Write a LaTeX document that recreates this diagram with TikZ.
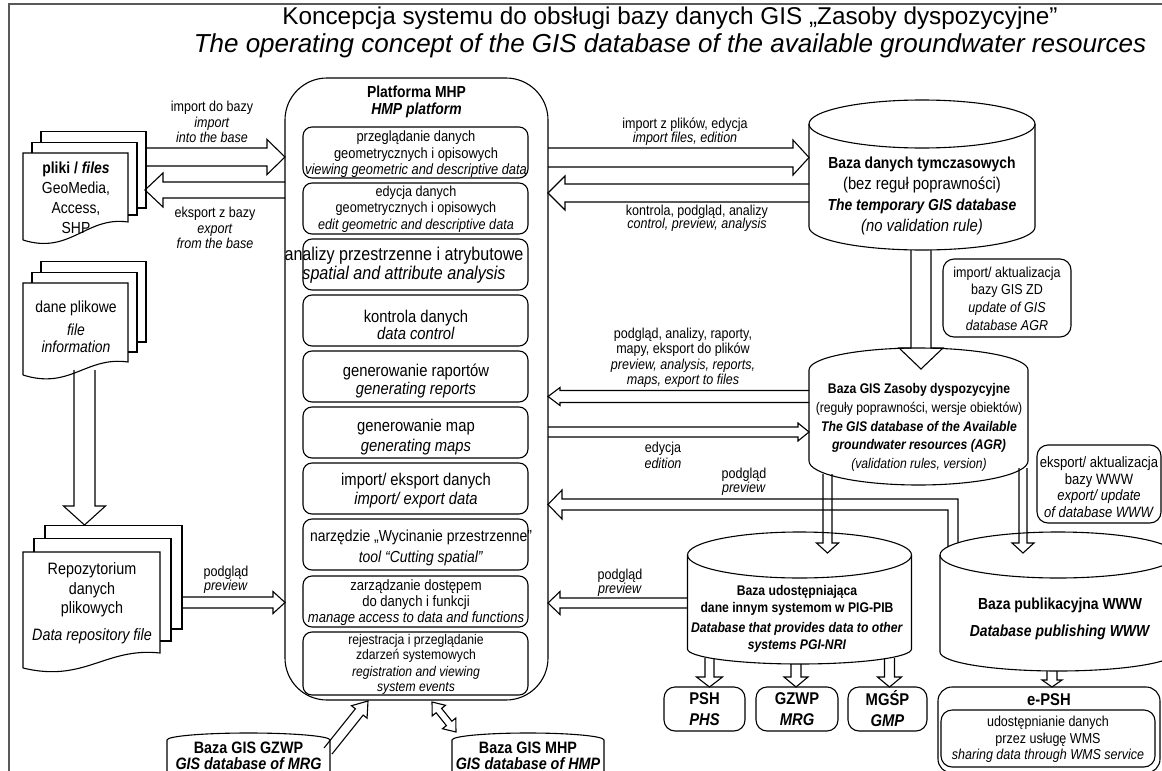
\documentclass[tikz,border=0pt]{standalone}
\usepackage{fontspec}
\setmainfont{Liberation Sans}[FakeStretch=0.87]
\newfontfamily\titlefont{Liberation Sans}
\usetikzlibrary{calc,positioning}

\newcommand{\fsz}[2]{\fontsize{#1}{#2}\selectfont}

\tikzset{
  ln/.style={line width=1.1pt},
  fat/.style={draw, line width=1.1pt, line join=miter, miter limit=20},
  fnbox/.style={draw, line width=1.1pt, rounded corners=9pt, minimum width=225pt},
  rbox/.style={draw, line width=1.1pt, rounded corners=11pt},
  lbl/.style={align=center, font=\fsz{14.4}{15.5}},
}

% hollow block arrow: start, tip, shaft half width, head half width, head length
\newcommand{\fatarrow}[5]{%
  \coordinate (fh) at ($(#2)!#5!(#1)$);
  \draw[fat] ($(#1)!#3!90:(#2)$) -- ($(fh)!#3!90:(#2)$) -- ($(fh)!#4!90:(#2)$) -- (#2)
    -- ($(fh)!#4!-90:(#2)$) -- ($(fh)!#3!-90:(#2)$) -- ($(#1)!#3!-90:(#2)$);}

% hollow block arrow with two heads
\newcommand{\fatdouble}[5]{%
  \coordinate (fha) at ($(#1)!#5!(#2)$);
  \coordinate (fhb) at ($(#2)!#5!(#1)$);
  \draw[fat] (#1) -- ($(fha)!#4!90:(#2)$) -- ($(fha)!#3!90:(#2)$) -- ($(fhb)!#3!-90:(#1)$)
    -- ($(fhb)!#4!-90:(#1)$) -- (#2) -- ($(fhb)!#4!90:(#1)$) -- ($(fhb)!#3!90:(#1)$)
    -- ($(fha)!#3!-90:(#2)$) -- ($(fha)!#4!-90:(#2)$) -- cycle;}

% stack of three sheets: left, top, width, offset, right bottom, step, left bottom
\newcommand{\sheets}[7]{%
  \draw[ln] ({#1+2*#4},{#2-1.2*#4}) -- ({#1+2*#4},{#2-2.4*#4}) -- ({#1+#3+2*#4},{#2-2.4*#4})
    -- ({#1+#3+2*#4},{#5-2*#6}) -- ({#1+#3+#4},{#5-2*#6});
  \draw[ln] ({#1+#4},{#2}) -- ({#1+#4},{#2-1.2*#4}) -- ({#1+#3+#4},{#2-1.2*#4})
    -- ({#1+#3+#4},{#5-#6}) -- ({#1+#3},{#5-#6});
  \draw[ln] (#1,#7) -- (#1,#2) -- ({#1+#3},#2) -- ({#1+#3},#5)
    .. controls ({#1+0.6*#3},{#5-6}) and ({#1+0.45*#3},{#7+15}) .. (#1,#7);}

% database drum round a node: node, x radius, top y radius, bottom y radius, full top
\newcommand{\dbcyl}[5]{%
  \draw[ln] (#1.north west) -- (#1.south west) arc[start angle=180, end angle=360, x radius=#2, y radius=#4]
    -- (#1.north east) arc[start angle=0, end angle=180, x radius=#2, y radius=#3];
  \ifnum#5=1 \draw[ln] (#1.north west) arc[start angle=180, end angle=360, x radius=#2, y radius=#3];\fi}

\begin{document}
\begin{tikzpicture}[x=1pt,y=-1pt, every node/.style={inner sep=0pt,outer sep=0pt}]

\useasboundingbox (0,0) rectangle (1162,771);

\draw[black!65, line width=1.2pt] (9,775) -- (9,4) -- (1170,4);

% title
\node[font=\titlefont\fsz{24.3}{28}] (title) at (670,18) {Koncepcja systemu do obsługi bazy danych GIS „Zasoby dyspozycyjne”};
\node[font=\titlefont\itshape\fsz{26}{28}] (subtitle) at (670,46) {The operating concept of the GIS database of the available groundwater resources};

% platform
\node[draw, ln, rounded corners=42pt, minimum width=263pt, minimum height=622pt] (plat) at (416.5,389) {};
\node[font=\bfseries\fsz{16}{17}, align=center] (plathead) at (416.5,101.5) {Platforma MHP\\\textit{HMP platform}};

\foreach \yb/\hb/\xt/\yt/\fnt/\txt [count=\i] in {
  152.5/51/416/154.5/{\fsz{14.8}{16.5}}/{przeglądanie danych\\geometrycznych i opisowych\\\textit{viewing geometric and descriptive data}},
  208.5/51/416/209/{\fsz{14.5}{16.5}}/{edycja danych\\geometrycznych i opisowych\\\textit{edit geometric and descriptive data}},
  264.5/51/404/265/{\fsz{18.5}{18.5}}/{analizy przestrzenne i atrybutowe\\\textit{spatial and attribute analysis}},
  320.5/51/416/325/{\fsz{17}{17}}/{kontrola danych\\\textit{data control}},
  376.5/51/416/381/{\fsz{17}{18}}/{generowanie raportów\\\textit{generating reports}},
  432.5/51/416/437/{\fsz{17}{20}}/{generowanie map\\\textit{generating maps}},
  488.5/51/416/491/{\fsz{17}{19}}/{import/ eksport danych\\\textit{import/ export data}},
  544.5/51/421/548/{\fsz{16}{21}}/{narzędzie „Wycinanie przestrzenne”\\\textit{tool “Cutting spatial”}},
  601.5/51/416/603/{\fsz{15}{16}}/{zarządzanie dostępem\\do danych i funkcji\\\textit{manage access to data and functions}},
  663.5/63/416/664.5/{\fsz{14}{15}}/{rejestracja i przeglądanie\\zdarzeń systemowych\\[2pt]\textit{registration and viewing}\\\textit{system events}}}
{
  \node[fnbox, minimum height=\hb pt] (fn\i) at (415.5,\yb) {};
  \node[align=center, font=\fnt] (fnt\i) at (\xt,\yt) {\txt};
}

% file stacks on the left
\sheets{23}{153}{105}{9}{222}{7}{240}
\node[align=center, font=\fsz{16}{20}] (files) at (76,198) {\textbf{pliki / \textit{files}}\\GeoMedia,\\Access,\\SHP};
\sheets{23}{283}{105}{9}{362}{10}{375}
\node[align=center, font=\fsz{16}{17.5}] (fileinfo) at (76,327) {dane plikowe\\[5pt]\textit{file}\\\textit{information}};
\sheets{23}{552}{137}{11}{653}{12}{668}
\node[align=center, font=\fsz{16.5}{19.5}] (repo) at (92,603) {Repozytorium\\danych\\plikowych\\[7pt]\textit{Data repository file}};

\coordinate (imS) at (145,157);
\coordinate (imT) at (plat.west |- imS);
\fatarrow{imS}{imT}{9pt}{17.5pt}{18pt}
\coordinate (exS) at (plat.west |- 0,190);
\coordinate (exT) at (145,190);
\fatarrow{exS}{exT}{8pt}{17pt}{18pt}
\node[lbl] (imlbl) at (212,122) {import do bazy\\\textit{import}\\\textit{into the base}};
\node[lbl] (exlbl) at (215,228) {eksport z bazy\\\textit{export}\\\textit{from the base}};

\coordinate (fiS) at (84.5,370);
\coordinate (fiT) at (84.5,525);
\fatarrow{fiS}{fiT}{10.5pt}{21pt}{19pt}

\coordinate (rpS) at (182,602.5);
\coordinate (rpT) at (plat.west |- rpS);
\fatarrow{rpS}{rpT}{5.5pt}{11pt}{12pt}
\node[lbl, font=\fsz{14.4}{14}] (rplbl) at (226,580) {podgląd\\\textit{preview}};

% temporary database
\node[minimum width=226pt, minimum height=103pt] (tmpdb) at (922,175.5) {};
\dbcyl{tmpdb}{113pt}{24pt}{23pt}{1}
\node[align=center, font=\fsz{16}{21}] (tmptxt) at (922,196) {\textbf{Baza danych tymczasowych}\\{\fsz{17}{21}(bez reguł poprawności)}\\\textbf{\textit{The temporary GIS database}}\\{\fsz{17}{21}\textit{(no validation rule)}}};

\coordinate (tiS) at (plat.east |- 0,157.5);
\coordinate (tiT) at (tmpdb.west |- tiS);
\fatarrow{tiS}{tiT}{9.5pt}{17.5pt}{16pt}
\coordinate (tkS) at (tmpdb.west |- 0,193);
\coordinate (tkT) at (plat.east |- tkS);
\fatarrow{tkS}{tkT}{9pt}{17pt}{17pt}
\node[lbl, font=\fsz{14.4}{13.5}] (tilbl) at (685,131.5) {import z plików, edycja\\\textit{import files, edition}};
\node[lbl, font=\fsz{14.4}{13.5}] (tklbl) at (697,218.5) {kontrola, podgląd, analizy\\\textit{control, preview, analysis}};

\coordinate (tzS) at (921,250);
\coordinate (tzT) at (921,369);
\fatarrow{tzS}{tzT}{10pt}{22pt}{21pt}

\node[rbox, minimum width=128pt, minimum height=78pt] (impbox) at (1007,298) {};
\node[align=center, font=\fsz{14.4}{17.7}] (imptxt) at (1007,298.5) {import/ aktualizacja\\bazy GIS ZD\\\textit{update of GIS}\\\textit{database AGR}};

% main database
\node[minimum width=219pt, minimum height=91pt] (zasdb) at (918.5,415.5) {};
\dbcyl{zasdb}{109.5pt}{22pt}{24pt}{0}
\node[align=center, font=\fsz{14}{18.8}] (zastxt) at (919,427.5) {\textbf{Baza GIS Zasoby dyspozycyjne}\\(reguły poprawności, wersje obiektów)\\\textbf{\textit{The GIS database of the Available}}\\\textbf{\textit{groundwater resources (AGR)}}\\\textit{(validation rules, version)}};

\coordinate (zpS) at (zasdb.west |- 0,396.5);
\coordinate (zpT) at (plat.east |- zpS);
\fatarrow{zpS}{zpT}{6pt}{9pt}{12pt}
\coordinate (zeS) at (plat.east |- 0,432);
\coordinate (zeT) at (zasdb.west |- zeS);
\fatarrow{zeS}{zeT}{5pt}{9pt}{11pt}
\node[lbl] (zplbl) at (683,358) {podgląd, analizy, raporty,\\mapy, eksport do plików\\\textit{preview, analysis, reports,}\\\textit{maps, export to files}};
\node[lbl] (zelbl) at (663,455.5) {edycja\\\textit{edition}};

\node[rbox, minimum width=124pt, minimum height=78pt] (expbox) at (1099,484) {};
\node[align=center, font=\fsz{15}{16.7}] (exptxt) at (1099,487) {eksport/ aktualizacja\\bazy WWW\\\textit{export/ update}\\\textit{of database WWW}};

% sharing and publishing databases
\node[minimum width=224pt, minimum height=94pt] (udodb) at (799.5,602) {};
\dbcyl{udodb}{112pt}{23pt}{15pt}{1}
\node[align=center, font=\bfseries\fsz{14}{17}] (udotxt) at (797,619) {Baza udostępniająca\\dane innym systemom w PIG-PIB\\[3pt]\textit{Database that provides data to other}\\\textit{systems PGI-NRI}};

\node[minimum width=236pt, minimum height=97pt] (pubdb) at (1058,603.5) {};
\dbcyl{pubdb}{118pt}{23pt}{19pt}{1}
\node[align=center, font=\bfseries\fsz{16}{27}] (pubtxt) at (1060,618.5) {Baza publikacyjna WWW\\\textit{Database publishing WWW}};

\coordinate (zuS) at (827.5,474);
\coordinate (zuT) at (827.5,553);
\fatarrow{zuS}{zuT}{4.5pt}{11pt}{10pt}
\coordinate (zwS) at (1023,468);
\coordinate (zwT) at (1023,553);
\fatarrow{zwS}{zwT}{4pt}{11pt}{10pt}

\coordinate (upS) at (udodb.west |- 0,603);
\coordinate (upT) at (plat.east |- upS);
\fatarrow{upS}{upT}{5pt}{11.5pt}{12pt}
\node[lbl, font=\fsz{14.4}{12}] (uplbl) at (620,582.5) {podgląd\\\textit{preview}};

\coordinate (ppT) at (plat.east |- 0,504.5);
\draw[fat] (948,547) -- (948,510) -- (562,510) -- (562,519) -- (ppT) -- (562,490) -- (562,499) -- (958,499) -- (958,543);
\node[lbl, font=\fsz{14.4}{13}] (pplbl) at (744,481.5) {podgląd\\\textit{preview}};

% systems fed by the sharing database
\node[rbox, minimum width=81pt, minimum height=44pt] (psh) at (704.5,709) {};
\node[rbox, minimum width=82pt, minimum height=44pt] (gzwp) at (797,709) {};
\node[rbox, minimum width=79pt, minimum height=44pt] (mgsp) at (887.5,709) {};
\node[align=center, font=\bfseries\fsz{17}{21}] at (psh.center) {PSH\\\textit{PHS}};
\node[align=center, font=\bfseries\fsz{17}{21}] at (gzwp.center) {GZWP\\\textit{MRG}};
\node[align=center, font=\bfseries\fsz{17}{21}] at (mgsp.center) {MGŚP\\\textit{GMP}};
\coordinate (s1S) at (709.5,658);
\coordinate (s1T) at (s1S |- psh.north);
\fatarrow{s1S}{s1T}{4.5pt}{13pt}{10pt}
\coordinate (s2S) at (796,664);
\coordinate (s2T) at (s2S |- gzwp.north);
\fatarrow{s2S}{s2T}{5pt}{12pt}{10pt}
\coordinate (s3S) at (889.5,658);
\coordinate (s3T) at (s3S |- mgsp.north);
\fatarrow{s3S}{s3T}{5pt}{12pt}{10pt}

\node[rbox, rounded corners=14pt, minimum width=222pt, minimum height=86pt] (epsh) at (1049,730) {};
\node[rbox, minimum width=214pt, minimum height=57pt] (epshin) at (1048,738.5) {};
\node[font=\bfseries\fsz{17}{20}] (epshhead) at (1049,700) {e-PSH};
\node[align=center, font=\fsz{14.4}{16.5}] (epshtxt) at (1048,739.5) {udostępnianie danych\\przez usługę WMS\\\textit{sharing data through WMS service}};
\coordinate (peS) at (1052,671);
\coordinate (peT) at (peS |- epsh.north);
\fatarrow{peS}{peT}{5pt}{10pt}{7pt}

% databases below the platform
\node[minimum width=163pt, minimum height=34pt] (gzwpdb) at (248.5,757) {};
\draw[ln] (gzwpdb.south west) -- (gzwpdb.north west) arc[start angle=180, end angle=0, x radius=81.5pt, y radius=7pt] -- (gzwpdb.south east);
\node[align=center, font=\bfseries\fsz{16.5}{16}] (gzwptxt) at (248.5,756) {Baza GIS GZWP\\\textit{GIS database of MRG}};
\node[minimum width=152pt, minimum height=34pt] (mhpdb) at (528,757) {};
\draw[ln] (mhpdb.south west) -- (mhpdb.north west) arc[start angle=180, end angle=0, x radius=76pt, y radius=7pt] -- (mhpdb.south east);
\node[align=center, font=\bfseries\fsz{16.5}{16}] (mhptxt) at (528,756) {Baza GIS MHP\\\textit{GIS database of HMP}};

\coordinate (gzS) at (328,751);
\coordinate (gzT) at (368,701);
\fatarrow{gzS}{gzT}{5pt}{10pt}{14pt}
\coordinate (mhA) at (432,702);
\coordinate (mhB) at (456,732);
\fatdouble{mhA}{mhB}{3.5pt}{8.5pt}{11pt}

\end{tikzpicture}
\end{document}
